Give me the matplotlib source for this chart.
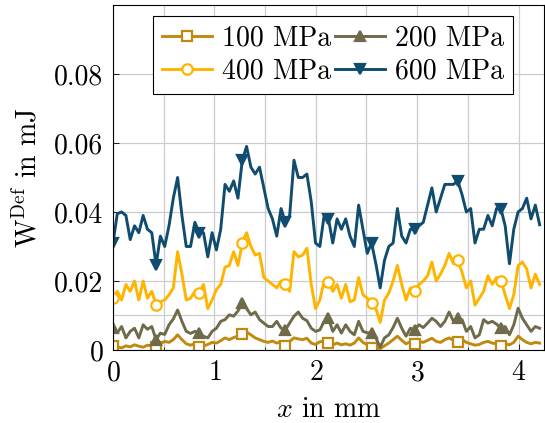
import numpy as np
import matplotlib
matplotlib.use("Agg")
import matplotlib.pyplot as plt
from matplotlib.ticker import FixedLocator, FuncFormatter

# sample positions along x in mm (100 samples, 0.0425 mm apart)
x = np.arange(100) * 0.0425

w_100 = [0.0013, 0.0010, 0.0006, 0.0012, 0.0009, 0.0015, 0.0011, 0.0008, 0.0014, 0.0012,
         0.0008, 0.0018, 0.0025, 0.0022, 0.0030, 0.0044, 0.0030, 0.0018, 0.0014, 0.0018,
         0.0008, 0.0012, 0.0016, 0.0022, 0.0020, 0.0027, 0.0035, 0.0030, 0.0036, 0.0040,
         0.0045, 0.0052, 0.0044, 0.0035, 0.0030, 0.0025, 0.0022, 0.0026, 0.0020, 0.0024,
         0.0012, 0.0025, 0.0035, 0.0032, 0.0030, 0.0034, 0.0020, 0.0016, 0.0024, 0.0025,
         0.0020, 0.0015, 0.0020, 0.0015, 0.0018, 0.0014, 0.0020, 0.0035, 0.0022, 0.0015,
         0.0006, 0.0008, 0.0004, 0.0012, 0.0020, 0.0030, 0.0040, 0.0028, 0.0018, 0.0024,
         0.0016, 0.0025, 0.0022, 0.0028, 0.0034, 0.0025, 0.0022, 0.0030, 0.0035, 0.0028,
         0.0024, 0.0030, 0.0022, 0.0018, 0.0014, 0.0016, 0.0022, 0.0025, 0.0020, 0.0018,
         0.0012, 0.0018, 0.0015, 0.0022, 0.0040, 0.0030, 0.0022, 0.0018, 0.0022, 0.0020]

w_200 = [0.0063, 0.0050, 0.0068, 0.0035, 0.0054, 0.0063, 0.0035, 0.0073, 0.0060, 0.0068,
         0.0030, 0.0049, 0.0045, 0.0073, 0.0090, 0.0116, 0.0083, 0.0054, 0.0048, 0.0054,
         0.0049, 0.0040, 0.0035, 0.0054, 0.0063, 0.0083, 0.0088, 0.0102, 0.0098, 0.0113,
         0.0136, 0.0120, 0.0102, 0.0110, 0.0088, 0.0078, 0.0068, 0.0068, 0.0083, 0.0063,
         0.0059, 0.0078, 0.0098, 0.0110, 0.0092, 0.0085, 0.0063, 0.0054, 0.0058, 0.0083,
         0.0092, 0.0054, 0.0073, 0.0049, 0.0073, 0.0054, 0.0044, 0.0083, 0.0054, 0.0050,
         0.0049, 0.0035, 0.0008, 0.0035, 0.0044, 0.0065, 0.0092, 0.0063, 0.0040, 0.0063,
         0.0059, 0.0073, 0.0065, 0.0078, 0.0092, 0.0083, 0.0068, 0.0083, 0.0110, 0.0083,
         0.0092, 0.0088, 0.0054, 0.0068, 0.0035, 0.0044, 0.0088, 0.0078, 0.0083, 0.0075,
         0.0063, 0.0068, 0.0044, 0.0073, 0.0121, 0.0092, 0.0073, 0.0054, 0.0068, 0.0063]

w_400 = [0.0150, 0.0170, 0.0145, 0.0190, 0.0170, 0.0200, 0.0145, 0.0200, 0.0150, 0.0170,
         0.0130, 0.0140, 0.0145, 0.0160, 0.0180, 0.0285, 0.0220, 0.0145, 0.0150, 0.0170,
         0.0165, 0.0190, 0.0120, 0.0145, 0.0175, 0.0190, 0.0240, 0.0245, 0.0285, 0.0245,
         0.0310, 0.0340, 0.0300, 0.0275, 0.0280, 0.0210, 0.0200, 0.0190, 0.0180, 0.0200,
         0.0190, 0.0170, 0.0285, 0.0270, 0.0275, 0.0295, 0.0190, 0.0120, 0.0145, 0.0200,
         0.0198, 0.0170, 0.0190, 0.0150, 0.0190, 0.0140, 0.0145, 0.0210, 0.0160, 0.0150,
         0.0135, 0.0120, 0.0080, 0.0145, 0.0165, 0.0200, 0.0245, 0.0190, 0.0145, 0.0180,
         0.0170, 0.0190, 0.0200, 0.0215, 0.0255, 0.0200, 0.0220, 0.0245, 0.0280, 0.0250,
         0.0260, 0.0225, 0.0180, 0.0200, 0.0130, 0.0150, 0.0170, 0.0215, 0.0190, 0.0210,
         0.0200, 0.0160, 0.0120, 0.0160, 0.0245, 0.0255, 0.0235, 0.0180, 0.0220, 0.0190]

w_600 = [0.0310, 0.0395, 0.0400, 0.0390, 0.0320, 0.0360, 0.0340, 0.0390, 0.0350, 0.0340,
         0.0246, 0.0330, 0.0300, 0.0360, 0.0440, 0.0500, 0.0390, 0.0300, 0.0300, 0.0370,
         0.0340, 0.0340, 0.0270, 0.0340, 0.0290, 0.0350, 0.0480, 0.0460, 0.0490, 0.0440,
         0.0550, 0.0590, 0.0530, 0.0510, 0.0530, 0.0470, 0.0410, 0.0380, 0.0330, 0.0410,
         0.0370, 0.0390, 0.0550, 0.0500, 0.0500, 0.0510, 0.0430, 0.0310, 0.0300, 0.0390,
         0.0380, 0.0310, 0.0380, 0.0350, 0.0380, 0.0330, 0.0300, 0.0420, 0.0350, 0.0280,
         0.0310, 0.0250, 0.0180, 0.0260, 0.0300, 0.0310, 0.0410, 0.0330, 0.0310, 0.0350,
         0.0350, 0.0360, 0.0370, 0.0420, 0.0470, 0.0400, 0.0440, 0.0480, 0.0480, 0.0480,
         0.0490, 0.0450, 0.0400, 0.0410, 0.0310, 0.0350, 0.0350, 0.0390, 0.0360, 0.0410,
         0.0410, 0.0360, 0.0250, 0.0350, 0.0400, 0.0410, 0.0440, 0.0380, 0.0420, 0.0363]

labels = ["100 MPa", "200 MPa", "400 MPa", "600 MPa"]
colors = ["#C08A10", "#6F6A4A", "#FFB400", "#0F4C70"]

plt.rcParams["font.family"] = "cmr10"
plt.rcParams["mathtext.fontset"] = "cm"
plt.rcParams["axes.formatter.use_mathtext"] = True
plt.rcParams["font.size"] = 20

fig = plt.figure(figsize=(5.45, 4.23), dpi=100)
ax = fig.add_axes([0.2073, 0.1726, 0.7917, 0.8156])

series = [w_100, w_200, w_400, w_600]
markers = ["s", "^", "o", "v"]
faces = ["white", colors[1], "white", colors[3]]
lines = []
for y, lab, c, m, fc in zip(series, labels, colors, markers, faces):
    ln, = ax.plot(x, y, color=c, lw=2.1, marker=m, markevery=10, ms=7.5,
                  mfc=fc, mec=c, mew=1.6, label=lab)
    lines.append(ln)

ax.set_xlim(0, 4.255)
ax.set_ylim(0, 0.1)
ax.xaxis.set_major_locator(FixedLocator([0, 1, 2, 3, 4]))
ax.xaxis.set_minor_locator(FixedLocator([0.5, 1.5, 2.5, 3.5]))
ax.yaxis.set_major_locator(FixedLocator([0, 0.02, 0.04, 0.06, 0.08]))
ax.yaxis.set_minor_locator(FixedLocator([0.01]))
ax.yaxis.set_major_formatter(FuncFormatter(lambda v, p: "0" if v == 0 else "%.2f" % v))
ax.tick_params(which="both", direction="in", length=4, width=0.6, pad=7)
ax.tick_params(which="minor", length=2)
ax.tick_params(axis="y", which="minor", length=0)
ax.grid(True, which="both", color="#cccccc", lw=0.9)
ax.set_axisbelow(True)
for s in ax.spines.values():
    s.set_linewidth(0.8)

ax.set_xlabel(r"$x$ in mm", labelpad=8)
ax.set_ylabel(r"$\mathrm{W}^{\mathrm{Def}}$ in mJ", labelpad=8)

# legend rows: 100/200 on top, 400/600 below
order = [0, 2, 1, 3]
leg = ax.legend([lines[i] for i in order], [labels[i] for i in order],
                ncol=2, loc="upper center", bbox_to_anchor=(0.51, 0.968),
                borderaxespad=0.0, handlelength=1.8, columnspacing=0.15,
                handletextpad=0.35, labelspacing=0.25, borderpad=0.33,
                fancybox=False, edgecolor="black", framealpha=1.0)
leg.get_frame().set_linewidth(0.8)

fig.savefig("out.png", dpi=100)
